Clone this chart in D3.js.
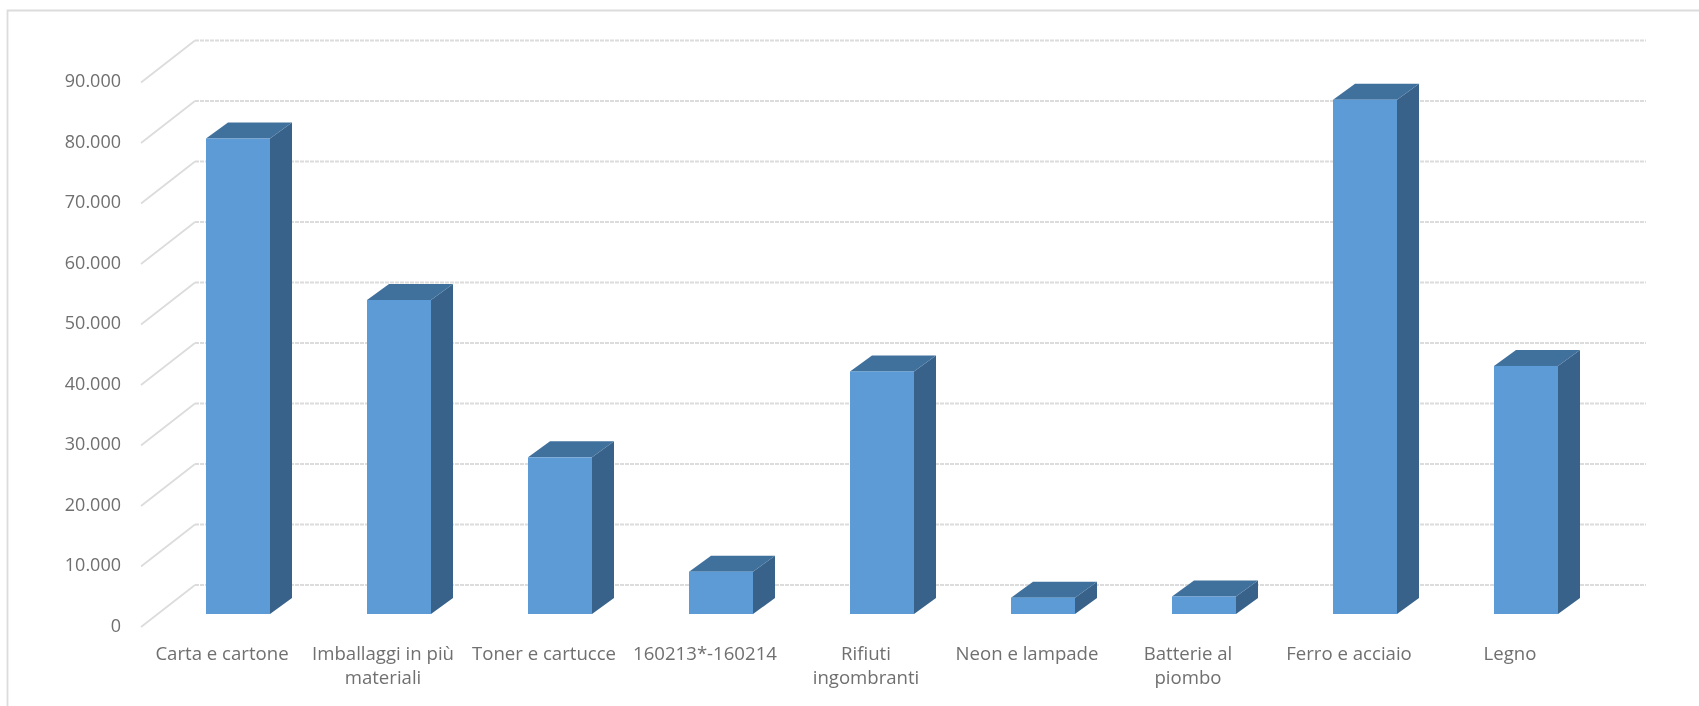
<!DOCTYPE html>
<html>
  <head>
    <meta http-equiv="Content-Type" content="text/html;charset=utf-8">
    <title>Rifiuti</title>
    <script type="text/javascript" src="https://d3js.org/d3.v7.min.js"></script>
    <style type="text/css">
html, body {
    margin: 0;
    background: #fff;
}
svg {
    display: block;
}
text {
    font-family: "Open Sans", sans-serif;
    fill: #6f6f6f;
}
.grid, .wall, .frame {
    stroke: #dcdcdc;
    stroke-width: 1.8;
    fill: none;
}
.grid {
    stroke-dasharray: 4 1;
}
.front { fill: #5b9bd5; }
.top { fill: #41719c; }
.side { fill: #38628a; }
    </style>
  </head>
  <body>
    <script type="text/javascript">
var categories = [
  "Carta e cartone",
  "Imballaggi in più\nmateriali",
  "Toner e cartucce",
  "160213*-160214",
  "Rifiuti\ningombranti",
  "Neon e lampade",
  "Batterie al\npiombo",
  "Ferro e acciaio",
  "Legno"
];
var values = [78600, 51900, 25900, 7000, 40100, 2700, 2900, 85000, 41000];
var yTicks = [0, 10000, 20000, 30000, 40000, 50000, 60000, 70000, 80000, 90000];

var width = 1699,
   height = 706;

var it = d3.formatLocale({decimal: ",", thousands: ".", grouping: [3], currency: ["", "€"]});

var svg = d3.select("body")
  .append("svg")
  .attr("width", width)
  .attr("height", height);

// the reference is a soft upscaled screenshot
svg.append("filter")
  .attr("id", "soft")
  .append("feGaussianBlur")
  .attr("stdDeviation", 0.7);

var chart = svg.append("g").attr("filter", "url(#soft)");

// y runs along the bar plane, walls are offset from it
var baseY = 614, plotH = 544.5;
var y = d3.scaleLinear().domain([0, 90000]).range([baseY, baseY - plotH]);

var x = d3.scaleBand()
  .domain(categories)
  .range([206 - 48.5, 206 - 48.5 + 161 * 9])
  .paddingInner(97 / 161)
  .paddingOuter(48.5 / 161);

var depthX = 22, depthY = 16;
var wallFrontX = 141, wallBackX = 195, wallRight = 1646;
var wallFrontDy = 13, wallBackDy = -29;

chart.append("path")
  .attr("class", "frame")
  .attr("d", d3.line()([[7.5, height], [7.5, 10.5], [width, 10.5]]));

chart.selectAll("line.grid")
  .data(yTicks)
  .join("line")
  .attr("class", "grid")
  .attr("x1", wallBackX)
  .attr("x2", wallRight)
  .attr("y1", function(d) { return y(d) + wallBackDy; })
  .attr("y2", function(d) { return y(d) + wallBackDy; });

chart.selectAll("line.wall")
  .data(yTicks)
  .join("line")
  .attr("class", "wall")
  .attr("x1", wallFrontX)
  .attr("x2", wallBackX)
  .attr("y1", function(d) { return y(d) + wallFrontDy; })
  .attr("y2", function(d) { return y(d) + wallBackDy; });

var bars = chart.selectAll("g.bar")
  .data(categories)
  .join("g")
  .attr("class", "bar");

function val(i) { return values[i]; }

bars.append("polygon")
  .attr("class", "side")
  .attr("points", function(d, i) {
    var r = x(d) + x.bandwidth();
    return [[r, y(val(i))], [r + depthX, y(val(i)) - depthY], [r + depthX, y(0) - depthY], [r, y(0)]].join(" ");
  });

bars.append("polygon")
  .attr("class", "top")
  .attr("points", function(d, i) {
    var l = x(d), r = l + x.bandwidth(), t = y(val(i));
    return [[l, t], [l + depthX, t - depthY], [r + depthX, t - depthY], [r, t]].join(" ");
  });

bars.append("rect")
  .attr("class", "front")
  .attr("x", function(d) { return x(d); })
  .attr("width", x.bandwidth())
  .attr("y", function(d, i) { return y(val(i)); })
  .attr("height", function(d, i) { return y(0) - y(val(i)); });

// value axis, on the front edge of the wall
var yAxis = d3.axisLeft(y)
  .tickValues(yTicks)
  .tickSize(0)
  .tickPadding(0)
  .tickFormat(it.format(",d"));

var yg = chart.append("g")
  .attr("transform", "translate(121," + (wallFrontDy - 1.5) + ")")
  .call(yAxis);
yg.select(".domain").remove();
yg.selectAll("text")
  .style("font-size", "18px")
  .style("font-family", "\"Open Sans\", sans-serif");

// category axis, labels sit a bit left of the bars
var xAxis = d3.axisBottom(x).tickSize(0).tickPadding(0).tickFormat("");

var xg = chart.append("g")
  .attr("transform", "translate(-16,660)")
  .call(xAxis);
xg.select(".domain").remove();
xg.selectAll(".tick text").each(function(d) {
  var t = d3.select(this).attr("y", null).attr("dy", null);
  d.split("\n").forEach(function(s, i) {
    t.append("tspan")
      .attr("x", 0)
      .attr("y", i * 24)
      .text(s);
  });
});
xg.selectAll("text")
  .style("font-size", "18.6px")
  .style("font-family", "\"Open Sans\", sans-serif");
    </script>
  </body>
</html>
